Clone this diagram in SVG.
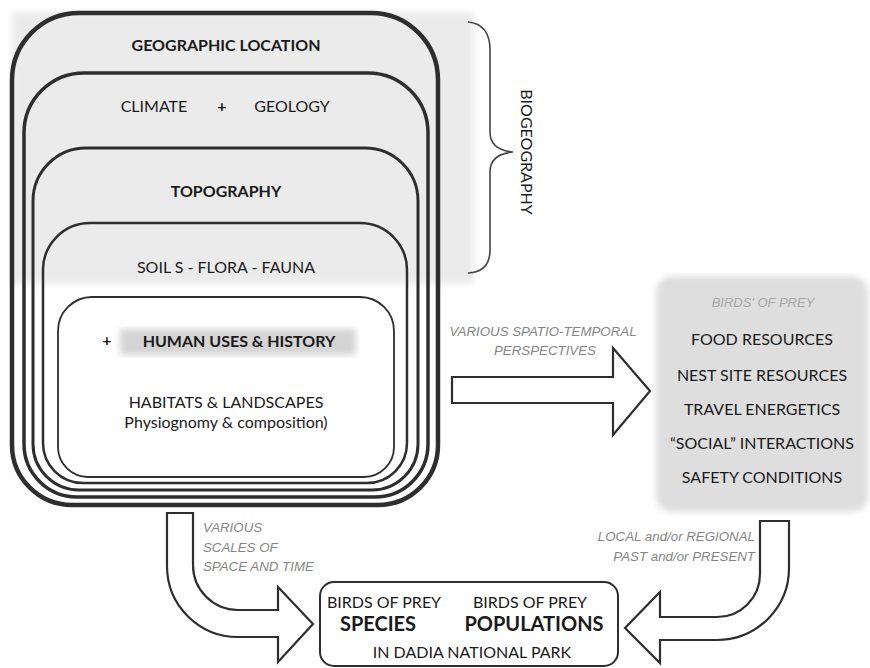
<svg xmlns="http://www.w3.org/2000/svg" width="870" height="668" viewBox="0 0 870 668">
<defs>
<filter id="soft" x="-10%" y="-10%" width="120%" height="120%"><feGaussianBlur stdDeviation="3"/></filter>
<style>
text{font-family:Lato,"Liberation Sans",sans-serif;fill:#1a1a1a}
.m{font-size:16px;text-anchor:middle}
.b{font-weight:bold}
.lab{font-family:"Liberation Sans",Arial,sans-serif;font-size:13.3px;font-style:italic;fill:#858585}
.box{fill:none;stroke:#2e2e2e}
.arr{fill:#fff;stroke:#2e2e2e;stroke-width:2.2;stroke-linejoin:miter}
</style>
</defs>
<rect width="870" height="668" fill="#fff"/>
<rect x="12" y="12" width="462" height="272" fill="#ebebeb" filter="url(#soft)"/>

<g id="geographic-location">
<path class="box" stroke-width="4.5" d="M79,13 H371 A67,67 0 0 1 438,80 V445 A60,60 0 0 1 378,505 H72 A60,60 0 0 1 12,445 V80 A67,67 0 0 1 79,13 Z"/>
<text class="m b" x="226" y="51">GEOGRAPHIC LOCATION</text>
</g>
<g id="climate-geology">
<path class="box" stroke-width="3.5" d="M84,73 H368 A60,60 0 0 1 428,133 V444 A53,53 0 0 1 375,497 H77 A53,53 0 0 1 24,444 V133 A60,60 0 0 1 84,73 Z"/>
<text class="m" x="154" y="111.5">CLIMATE</text>
<text class="m b" x="222" y="111.5">+</text>
<text class="m" x="292" y="111.5">GEOLOGY</text>
</g>
<g id="topography">
<path class="box" stroke-width="3" d="M86,148 H365 A53,53 0 0 1 418,201 V444 A46,46 0 0 1 372,490 H79 A46,46 0 0 1 33,444 V201 A53,53 0 0 1 86,148 Z"/>
<text class="m b" x="226" y="197">TOPOGRAPHY</text>
</g>
<g id="soils-flora-fauna">
<path class="box" stroke-width="2.5" d="M90,223 H360 A47,47 0 0 1 407,270 V443 A40,40 0 0 1 367,483 H83 A40,40 0 0 1 43,443 V270 A47,47 0 0 1 90,223 Z"/>
<text class="m" x="226" y="272.5">SOIL S - FLORA  -  FAUNA</text>
</g>
<g id="habitats">
<path fill="#fff" stroke="#2e2e2e" stroke-width="1.8" d="M92,297 H360 A34,34 0 0 1 394,331 V447 A30,30 0 0 1 364,477 H88 A30,30 0 0 1 58,447 V331 A34,34 0 0 1 92,297 Z"/>
<rect x="120" y="329" width="236" height="26" fill="#d4d4d4" filter="url(#soft)"/>
<text class="m b" x="107" y="346">+</text>
<text class="m b" x="239" y="347">HUMAN USES &amp; HISTORY</text>
<text class="m" x="226" y="407.5">HABITATS &amp; LANDSCAPES</text>
<text class="m" x="226" y="428">Physiognomy &amp; composition)</text>
</g>

<g id="biogeography">
<path d="M468,22 Q490,24 490,50 L490,132 Q490,150 513,152 Q490,154 490,172 L490,250 Q490,272 468,273" fill="none" stroke="#444" stroke-width="1.6"/>
<text class="m" transform="translate(521,152) rotate(90)" x="0" y="0">BIOGEOGRAPHY</text>
</g>

<g id="birds-factors">
<rect x="656" y="276" width="212" height="236" rx="16" fill="#dedede" filter="url(#soft)"/>
<text class="lab" x="763" y="307" text-anchor="middle" style="font-size:13px;fill:#a6a6a6">BIRDS' OF PREY</text>
<text class="m" x="762" y="344.5">FOOD RESOURCES</text>
<text class="m" x="762" y="380.5">NEST SITE RESOURCES</text>
<text class="m" x="762" y="414.5">TRAVEL ENERGETICS</text>
<text class="m" x="762" y="448.5">“SOCIAL” INTERACTIONS</text>
<text class="m" x="762" y="482.5">SAFETY CONDITIONS</text>
</g>

<g id="birds-populations">
<rect x="320" y="582" width="298" height="84" rx="14" fill="#fff" stroke="#2e2e2e" stroke-width="2"/>
<text class="m" x="384" y="608">BIRDS  OF PREY</text>
<text class="m" x="530" y="608">BIRDS  OF PREY</text>
<text class="m b" x="378" y="631" style="font-size:20px">SPECIES</text>
<text class="m b" x="534" y="631" style="font-size:20px">POPULATIONS</text>
<text class="m" x="472" y="658">IN  DADIA NATIONAL  PARK</text>
</g>

<g id="connectors">
<path class="arr" d="M452,377 H613 V348 L650,391 L613,435 V403 H452 Z"/>
<path class="arr" d="M167,513 H193 V565 A45,45 0 0 0 238,610 H278 V587 L313,624 L278,662 V637 H238 A71,71 0 0 1 167,566 Z"/>
<path class="arr" d="M760,521 H789 V568 A72,72 0 0 1 717,640 H660 V663 L625,628 L660,592 V617 H717 A43,43 0 0 0 760,574 Z"/>
<text class="lab" x="543" y="336" text-anchor="middle">VARIOUS SPATIO-TEMPORAL</text>
<text class="lab" x="545" y="355" text-anchor="middle">PERSPECTIVES</text>
<text class="lab" x="203" y="532">VARIOUS</text>
<text class="lab" x="203" y="552">SCALES OF</text>
<text class="lab" x="203" y="571">SPACE AND TIME</text>
<text class="lab" x="755" y="541" text-anchor="end">LOCAL and/or REGIONAL</text>
<text class="lab" x="755" y="561" text-anchor="end">PAST and/or PRESENT</text>
</g>
</svg>
